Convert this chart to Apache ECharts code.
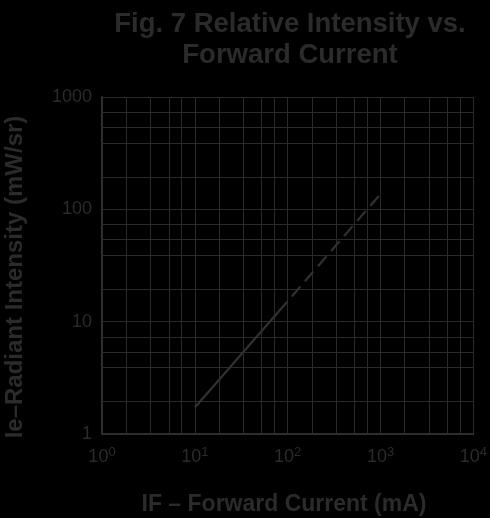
<!DOCTYPE html>
<html>
<head>
<meta charset="utf-8">
<script src="https://cdn.jsdelivr.net/npm/echarts@6/dist/echarts.min.js"></script>
<style>
html,body{margin:0;padding:0;background:#000;}
#c{width:490px;height:518px;}
</style>
</head>
<body>
<div id="c"></div>
<script>
// Data
var solidLine = [[10, 1.72], [80, 12.3]];
var dashedLine = [[80, 12.3], [1000, 137]];
// Tick labels
var xTickExponents = [0, 1, 2, 3, 4];
var yTickLabels = [1, 10, 100, 1000];
// Intermediate grid lines inside each decade (as drawn in the reference)
var xMinorFactors = [1.82, 3.35, 5.25, 7.16];
var yMinorFactors = [1.95, 3.9, 5.37, 7.33];
var xDecades = [1, 10, 100, 1000];
var yDecades = [1, 10, 100];

var TXT = '#2b2b2b';
var GRID = '#2a2a2a';
var FONT = '"Liberation Sans", Arial, Helvetica, sans-serif';

var xMinor = [], yMinor = [];
xDecades.forEach(function (d) { xMinorFactors.forEach(function (f) { xMinor.push({ xAxis: d * f }); }); });
yDecades.forEach(function (d) { yMinorFactors.forEach(function (f) { yMinor.push({ yAxis: d * f }); }); });

var chart = echarts.init(document.getElementById('c'), null, { renderer: 'canvas' });
chart.setOption({
  backgroundColor: '#000',
  animation: false,
  title: {
    text: 'Fig. 7 Relative Intensity vs.\nForward Current',
    left: 285,
    top: 4,
    textAlign: 'center',
    textStyle: { color: TXT, fontFamily: FONT, fontWeight: 'bold', fontSize: 27.5, lineHeight: 31 }
  },
  graphic: [
    {
      type: 'text',
      x: 15, y: 277,
      rotation: Math.PI / 2,
      style: {
        text: 'Ie\u2013Radiant Intensity (mW/sr)',
        fill: TXT, font: 'bold 24px ' + FONT,
        align: 'center', verticalAlign: 'middle'
      }
    },
    {
      type: 'text',
      x: 284, y: 505,
      style: {
        text: 'IF \u2013 Forward Current (mA)',
        fill: TXT, font: 'bold 23px ' + FONT,
        align: 'center', verticalAlign: 'middle'
      }
    }
  ],
  grid: { left: 102, right: 13, top: 97, bottom: 84, containLabel: false },
  xAxis: {
    type: 'log', logBase: 10, min: 1, max: 10000,
    axisLine: { show: true, lineStyle: { color: '#2e2e2e', width: 2 } },
    axisTick: { show: false },
    splitLine: { show: true, lineStyle: { color: GRID, width: 1 } },
    axisLabel: {
      margin: 12,
      formatter: function (v) {
        var e = Math.round(Math.log10(v));
        return '{b|10}{s|' + e + '}';
      },
      rich: {
        b: { color: TXT, fontFamily: FONT, fontSize: 18 },
        s: { color: TXT, fontFamily: FONT, fontSize: 13, padding: [0, 0, 9, 0] }
      }
    }
  },
  yAxis: {
    type: 'log', logBase: 10, min: 1, max: 1000,
    axisLine: { show: true, lineStyle: { color: '#2e2e2e', width: 2 } },
    axisTick: { show: false },
    splitLine: { show: true, lineStyle: { color: GRID, width: 1 } },
    axisLabel: {
      margin: 10,
      color: TXT, fontFamily: FONT, fontSize: 18,
      formatter: function (v) { return String(Math.round(v)); }
    }
  },
  series: [
    {
      type: 'line', data: solidLine, showSymbol: false, symbol: 'none',
      lineStyle: { color: '#313131', width: 2.2, type: 'solid' },
      silent: true, z: 5,
      markLine: {
        silent: true, symbol: 'none', label: { show: false },
        lineStyle: { color: GRID, width: 1, type: 'solid' },
        data: xMinor.concat(yMinor)
      }
    },
    {
      type: 'line', data: dashedLine, showSymbol: false, symbol: 'none',
      lineStyle: { color: '#313131', width: 2.2, type: [13, 7] },
      silent: true, z: 5
    }
  ]
});
</script>
</body>
</html>
